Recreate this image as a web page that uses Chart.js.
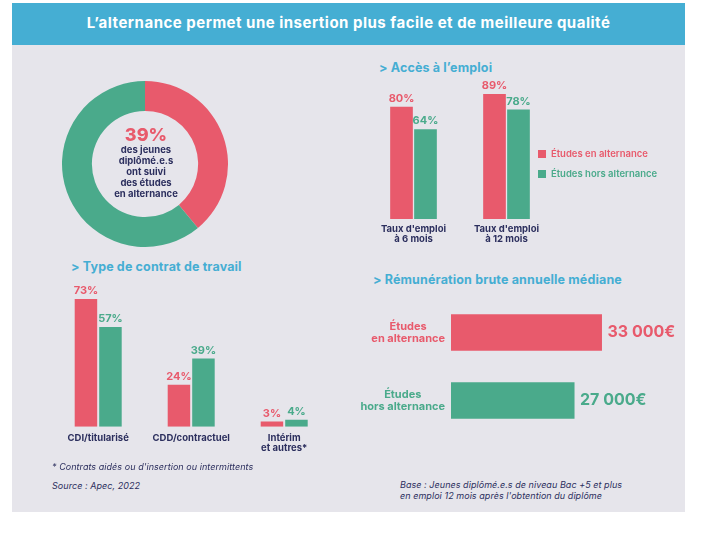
<!DOCTYPE html>
<html lang="fr">
<head>
<meta charset="utf-8">
<script src="https://cdn.jsdelivr.net/npm/chart.js@4.4.1/dist/chart.umd.min.js"></script>
<style>
  html, body { margin: 0; padding: 0; background: #fff; }
  body { width: 701px; height: 549px; position: relative; overflow: hidden; font-family: Inter, "Open Sans", sans-serif; color: #2c2f5e; }
  #panel { position: absolute; left: 12px; top: 3px; width: 673px; height: 509px; background: #e6e5eb; }
  #banner { position: absolute; left: 12px; top: 3px; width: 673px; height: 42px; background: #45aed3; }
  .t { position: absolute; white-space: nowrap; line-height: 14px; }
  .h { color: #45aed3; font-weight: 700; font-size: 12.5px; letter-spacing: 0.15px; }
  .note { font-style: italic; font-size: 9px; line-height: 10.7px; letter-spacing: 0.05px; }
  .sq { position: absolute; width: 8px; height: 8px; }
  canvas { position: absolute; }
</style>
</head>
<body>
<div id="panel"></div>
<div id="banner"></div>
<div class="t" style="left:12px;top:16px;width:673px;text-align:center;color:#fff;font-weight:700;font-size:15px;letter-spacing:0.5px;">L’alternance permet une insertion plus facile et de meilleure qualité</div>

<canvas id="donut" width="166" height="166" style="left:62px;top:81px;"></canvas>
<div class="t" style="left:96px;top:125px;width:100px;text-align:center;color:#e85a6c;font-weight:800;font-size:18px;line-height:20px;">39%</div>
<div class="t" style="left:96px;top:144px;width:100px;text-align:center;font-weight:700;font-size:9.5px;line-height:11px;">des jeunes<br>diplômé.e.s<br>ont suivi<br>des études<br>en alternance</div>

<div class="t h" style="left:379px;top:61px;">&gt; Accès à l’emploi</div>
<canvas id="acces" width="200" height="190" style="left:360px;top:60px;"></canvas>
<div class="sq" style="left:538px;top:150px;background:#e85a6c;"></div>
<div class="t" style="left:551px;top:147px;color:#e85a6c;font-weight:600;font-size:9.5px;">Études en alternance</div>
<div class="sq" style="left:538px;top:170px;background:#4aaa8b;"></div>
<div class="t" style="left:551px;top:167px;color:#4aaa8b;font-weight:600;font-size:9.5px;">Études hors alternance</div>

<div class="t h" style="left:71px;top:260px;">&gt; Type de contrat de travail</div>
<canvas id="contrat" width="300" height="220" style="left:40px;top:240px;"></canvas>

<div class="t h" style="left:373px;top:273px;">&gt; Rémunération brute annuelle médiane</div>
<canvas id="remu" width="320" height="160" style="left:360px;top:290px;"></canvas>

<div class="t note" style="left:52px;top:462px;">* Contrats aidés ou d'insertion ou intermittents</div>
<div class="t note" style="left:52px;top:481px;">Source : Apec, 2022</div>
<div class="t note" style="left:400px;top:480px;">Base : Jeunes diplômé.e.s de niveau Bac +5 et plus<br>en emploi 12 mois après l'obtention du diplôme</div>

<script>
const RED = '#e85a6c';
const GREEN = '#4aaa8b';
const NAVY = '#2c2f5e';

const donutLabels = ['Études en alternance', 'Études hors alternance'];
const donutValues = [39, 61];

const accesCategories = [["Taux d'emploi", 'à 6 mois'], ["Taux d'emploi", 'à 12 mois']];
const accesAlternance = [80, 89];
const accesHors = [64, 78];

const contratCategories = ['CDI/titularisé', 'CDD/contractuel', ['Intérim', 'et autres*']];
const contratAlternance = [73, 24, 3];
const contratHors = [57, 39, 4];

const remuCategories = [['Études', 'en alternance'], ['Études', 'hors alternance']];
const remuValues = [33000, 27000];

const FONT = 'Inter, "Open Sans", sans-serif';

// writes the value next to each bar, in the bar colour
const valueLabels = {
  id: 'valueLabels',
  afterDatasetsDraw(chart, args, opts) {
    const ctx = chart.ctx;
    const horizontal = chart.options.indexAxis === 'y';
    chart.data.datasets.forEach((ds, i) => {
      chart.getDatasetMeta(i).data.forEach((bar, j) => {
        const color = Array.isArray(ds.backgroundColor) ? ds.backgroundColor[j] : ds.backgroundColor;
        ctx.save();
        ctx.font = opts.font;
        ctx.fillStyle = color;
        ctx.textBaseline = 'middle';
        if (horizontal) {
          ctx.textAlign = 'left';
          ctx.fillText(opts.format(ds.data[j]), bar.x + opts.offset, bar.y);
        } else {
          ctx.textAlign = 'center';
          ctx.fillText(opts.format(ds.data[j]), bar.x, bar.y - opts.offset);
        }
        ctx.restore();
      });
    });
  }
};

// category labels on the left of the horizontal bars, centered lines
const sideLabels = {
  id: 'sideLabels',
  afterDraw(chart, args, opts) {
    if (!opts.enabled) return;
    const ctx = chart.ctx;
    const scale = chart.scales.y;
    const colors = chart.data.datasets[0].backgroundColor;
    ctx.save();
    ctx.font = opts.font;
    ctx.textBaseline = 'middle';
    ctx.textAlign = 'center';
    chart.data.labels.forEach((lines, i) => {
      const w = Math.max(...lines.map(l => ctx.measureText(l).width));
      const cx = chart.chartArea.left - opts.gap - w / 2;
      const cy = scale.getPixelForValue(i);
      ctx.fillStyle = colors[i];
      lines.forEach((l, k) => {
        ctx.fillText(l, cx, cy + (k - (lines.length - 1) / 2) * opts.lineHeight);
      });
    });
    ctx.restore();
  }
};

const noInteraction = { events: [], animation: false, responsive: false, maintainAspectRatio: false };

new Chart(document.getElementById('donut'), {
  type: 'doughnut',
  data: {
    labels: donutLabels,
    datasets: [{ data: donutValues, backgroundColor: [RED, GREEN], borderWidth: 0, hoverOffset: 0 }]
  },
  options: {
    ...noInteraction,
    cutout: '64%',
    plugins: { legend: { display: false }, tooltip: { enabled: false } }
  }
});

function barScalesX(pad) {
  return {
    grid: { display: false, drawTicks: false },
    border: { display: false },
    ticks: { color: NAVY, padding: pad, font: { family: FONT, size: 9.5, weight: '700', lineHeight: 1.08 } },
    afterFit: scale => { scale.height = 30; }
  };
}

new Chart(document.getElementById('acces'), {
  type: 'bar',
  data: {
    labels: accesCategories,
    datasets: [
      { label: 'Études en alternance', data: accesAlternance, backgroundColor: RED },
      { label: 'Études hors alternance', data: accesHors, backgroundColor: GREEN }
    ]
  },
  options: {
    ...noInteraction,
    categoryPercentage: 0.516,
    barPercentage: 0.945,
    layout: { padding: { left: 7, right: 7, top: 18.6, bottom: 1 } },
    scales: {
      x: barScalesX(4.8),
      y: { display: false, min: 0, max: 100 }
    },
    plugins: {
      legend: { display: false }, tooltip: { enabled: false },
      valueLabels: { font: '700 11px ' + FONT, offset: 8, format: v => v + '%' }
    }
  },
  plugins: [valueLabels]
});

new Chart(document.getElementById('contrat'), {
  type: 'bar',
  data: {
    labels: contratCategories,
    datasets: [
      { label: 'Études en alternance', data: contratAlternance, backgroundColor: RED },
      { label: 'Études hors alternance', data: contratHors, backgroundColor: GREEN }
    ]
  },
  options: {
    ...noInteraction,
    categoryPercentage: 0.527,
    barPercentage: 0.918,
    layout: { padding: { left: 11.7, right: 9.3, top: 11.7, bottom: 3.3 } },
    scales: {
      x: barScalesX(6.4),
      y: { display: false, min: 0, max: 100 }
    },
    plugins: {
      legend: { display: false }, tooltip: { enabled: false },
      valueLabels: { font: '700 11px ' + FONT, offset: 8, format: v => v + '%' }
    }
  },
  plugins: [valueLabels]
});

new Chart(document.getElementById('remu'), {
  type: 'bar',
  data: {
    labels: remuCategories,
    datasets: [{ data: remuValues, backgroundColor: [RED, GREEN] }]
  },
  options: {
    ...noInteraction,
    indexAxis: 'y',
    categoryPercentage: 1,
    barPercentage: 0.535,
    layout: { padding: { left: 91, right: 46, top: 8.5, bottom: 15.5 } },
    scales: {
      x: { display: false, min: 0, max: 40000 },
      y: { display: false }
    },
    plugins: {
      legend: { display: false }, tooltip: { enabled: false },
      valueLabels: { font: '700 16px ' + FONT, offset: 5.5, format: v => (v / 1000) + ' 000€' },
      sideLabels: { enabled: true, font: '700 11px ' + FONT, gap: 6, lineHeight: 12.5 }
    }
  },
  plugins: [valueLabels, sideLabels]
});
</script>
</body>
</html>
